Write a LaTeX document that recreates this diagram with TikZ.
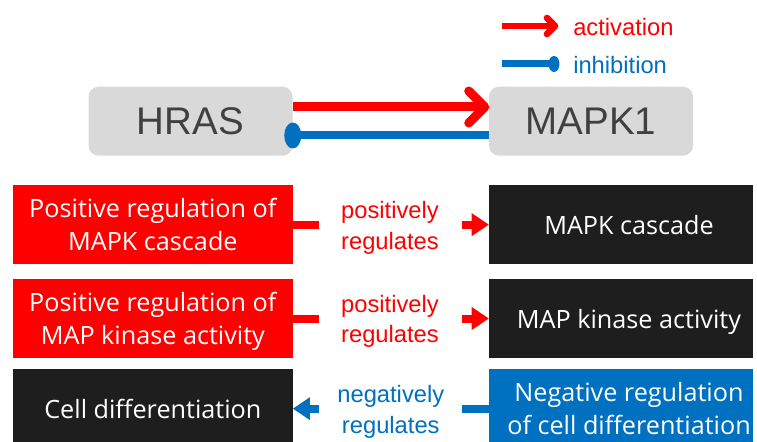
\documentclass[tikz,border=0pt]{standalone}
\usepackage{fontspec}
\setmainfont{Liberation Sans}
\newfontfamily\boxfont{Open Sans}
\usetikzlibrary{arrows.meta,calc}
\definecolor{pred}{HTML}{FF0000}
\definecolor{pblue}{HTML}{0070C0}
\definecolor{pblack}{HTML}{1E1E1E}
\definecolor{pgray}{HTML}{D9D9D9}
\definecolor{ptext}{HTML}{404040}
\newcommand\bst{\rule[-0.24em]{0pt}{1.24em}}
\begin{document}
\begin{tikzpicture}[x=0.75pt,y=-0.75pt,
  genebox/.style={fill=pgray, rounded corners=7.5pt, minimum width=153pt, minimum height=51.75pt, inner sep=0pt, text=ptext, font=\fontsize{28.9}{34}\selectfont},
  termbox/.style={minimum height=59.25pt, inner sep=0pt, text=white, font=\boxfont\fontsize{18.9}{23.25}\selectfont, align=center},
  leftbox/.style={termbox, minimum width=209.8pt},
  rightbox/.style={termbox, minimum width=198pt},
  termtext/.style={inner sep=0pt, text=white, font=\boxfont\fontsize{18.9}{23.25}\selectfont, align=center},
  lbl/.style={inner sep=0pt, align=center, font=\fontsize{17.8}{20.25}\selectfont},
  stub/.style={line width=6pt},
  regarrow/.style={line width=6pt, -{Triangle[length=12.75pt,width=17.25pt,line width=0pt]}},
]
\useasboundingbox (0,0) rectangle (757,442);
\clip (0,0) rectangle (757,442);
% legend
\node[lbl, text=pred, anchor=west] (lact) at (573,26) {\bst activation\bst};
\node[lbl, text=pblue, anchor=west] (linh) at (573,64) {\bst inhibition\bst};
\coordinate (la0) at (502,26);
\coordinate (li0) at (502,64);
\draw[pred, line width=5pt] (la0) -- ($(lact.west)+(-18,0)$);
\draw[pred, line width=5pt, line cap=round, line join=round] ($(lact.west)+(-26,-8)$) -- ($(lact.west)+(-18,0)$) -- ($(lact.west)+(-26,8)$);
\draw[pblue, line width=5.25pt] (li0) -- ($(linh.west)+(-19,0)$);
\fill[pblue] ($(linh.west)+(-19,0)$) ellipse [x radius=4.1pt, y radius=6pt];
% genes
\node[genebox] (hras) at (190.5,121.2) {HRAS};
\node[genebox] (mapk) at (591,121.2) {MAPK1};
\draw[pred, line width=6.75pt] ($(hras.east)+(0,-14.2)$) -- ($(mapk.west)+(-4,-14.2)$);
\draw[pred, line width=6.75pt, line cap=round, line join=round] ($(mapk.west)+(-20,-30.2)$) -- ($(mapk.west)+(-4,-14.2)$) -- ($(mapk.west)+(-20,1.8)$);
\draw[pblue, line width=6pt] ($(hras.east)+(0,14.3)$) -- ($(mapk.west)+(0,14.3)$);
\fill[pblue] ($(hras.east)+(0,14.3)$) ellipse [x radius=6.4pt, y radius=9.75pt];
% row 1
\node[leftbox, fill=pred] (r1L) at (152.85,224.65) {\bst Positive regulation of\\MAPK cascade\bst};
\node[rightbox, fill=pblack] (r1R) at (621,224.65) {};
\node[termtext] (t1R) at ($(r1R.center)+(8,0)$) {\bst MAPK cascade\bst};
\node[lbl, text=pred] (l1) at (390,224.65) {\bst positively\\regulates\bst};
\draw[pred, stub] (r1L.east) -- ++(26.5,0);
\draw[pred, regarrow] ($(r1R.west)+(-27,0)$) -- (r1R.west);
% row 2
\node[leftbox, fill=pred] (r2L) at (152.85,318.5) {\bst Positive regulation of\\MAP kinase activity\bst};
\node[rightbox, fill=pblack] (r2R) at (621,318.5) {};
\node[termtext] (t2R) at ($(r2R.center)+(8,0)$) {\bst MAP kinase activity\bst};
\node[lbl, text=pred] (l2) at (390,318.5) {\bst positively\\regulates\bst};
\draw[pred, stub] (r2L.east) -- ++(26.5,0);
\draw[pred, regarrow] ($(r2R.west)+(-27,0)$) -- (r2R.west);
% row 3
\node[leftbox, fill=pblack] (r3L) at (152.85,408.65) {\bst Cell differentiation\bst};
\node[rightbox, fill=pblue] (r3R) at (621,408.65) {};
\node[termtext] (t3R) at ($(r3R.center)+(8,0)$) {\bst Negative regulation\\of cell differentiation\bst};
\node[lbl, text=pblue] (l3) at (390.8,408.65) {\bst negatively\\regulates\bst};
\draw[pblue, stub] (r3R.west) -- ++(-27,0);
\draw[pblue, regarrow] ($(r3L.east)+(26.5,0)$) -- (r3L.east);
\end{tikzpicture}
\end{document}
